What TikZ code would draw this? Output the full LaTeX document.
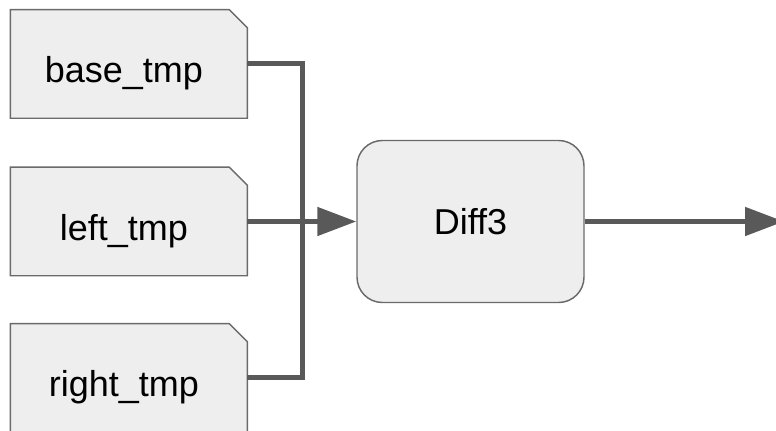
\documentclass[tikz,border=0pt]{standalone}
\usepackage{fontspec}
\setmainfont{Liberation Sans}
\usetikzlibrary{arrows.meta,backgrounds}

\definecolor{cardfill}{HTML}{EEEEEE}
\definecolor{cardline}{HTML}{6A6A6A}
\definecolor{wire}{HTML}{595959}

\begin{document}
\begin{tikzpicture}[
    x=0.75pt, y=-0.75pt,
    card/.style={minimum width=177.3pt, minimum height=81pt, inner sep=0pt},
    cardtext/.style={anchor=base, font=\fontsize{27}{32}\selectfont, text=black, inner sep=0pt},
    proc/.style={draw=cardline, fill=cardfill, line width=1.1pt, rounded corners=19pt,
      minimum width=170.25pt, minimum height=121.5pt, inner sep=0pt,
      font=\fontsize{27}{32}\selectfont},
    conn/.style={draw=wire, line width=3.75pt,
      -{Triangle[length=29.25pt, width=21pt]}},
    wireonly/.style={draw=wire, line width=3.75pt},
  ]
  \useasboundingbox (0,0) rectangle (776,431);

  % file cards
  \node[card] (base)  at (128.85,64)    {};
  \node[card] (left)  at (128.85,221.5) {};
  \node[card] (right) at (128.85,378)   {};

  \begin{scope}[on background layer]
    \foreach \n in {base,left,right}{
      \filldraw[fill=cardfill, draw=cardline, line width=1.1pt]
        (\n.south west) -- (\n.north west) -- ([xshift=-13.5pt]\n.north east)
        -- ([yshift=-13.5pt]\n.north east) -- (\n.south east) -- cycle;
    }
  \end{scope}

  \node[cardtext] (basetext)  at ([xshift=-3.75pt,yshift=-14.25pt]base.center)  {base\_tmp};
  \node[cardtext] (lefttext)  at ([xshift=-3.75pt,yshift=-14.25pt]left.center)  {left\_tmp};
  \node[cardtext] (righttext) at ([xshift=-3.75pt,yshift=-14.25pt]right.center) {right\_tmp};

  % merge step
  \node[proc] (diff) at (470.5,221.5) {Diff3};

  % wiring
  \coordinate (bus) at (302,221.5);
  \coordinate (out) at (784,221.5);

  \draw[wireonly] (base.east) -| (bus);
  \draw[wireonly] (right.east) -| (bus);
  \draw[conn] (left.east) -- (diff.west);
  \draw[conn] (diff.east) -- (out);
\end{tikzpicture}
\end{document}
